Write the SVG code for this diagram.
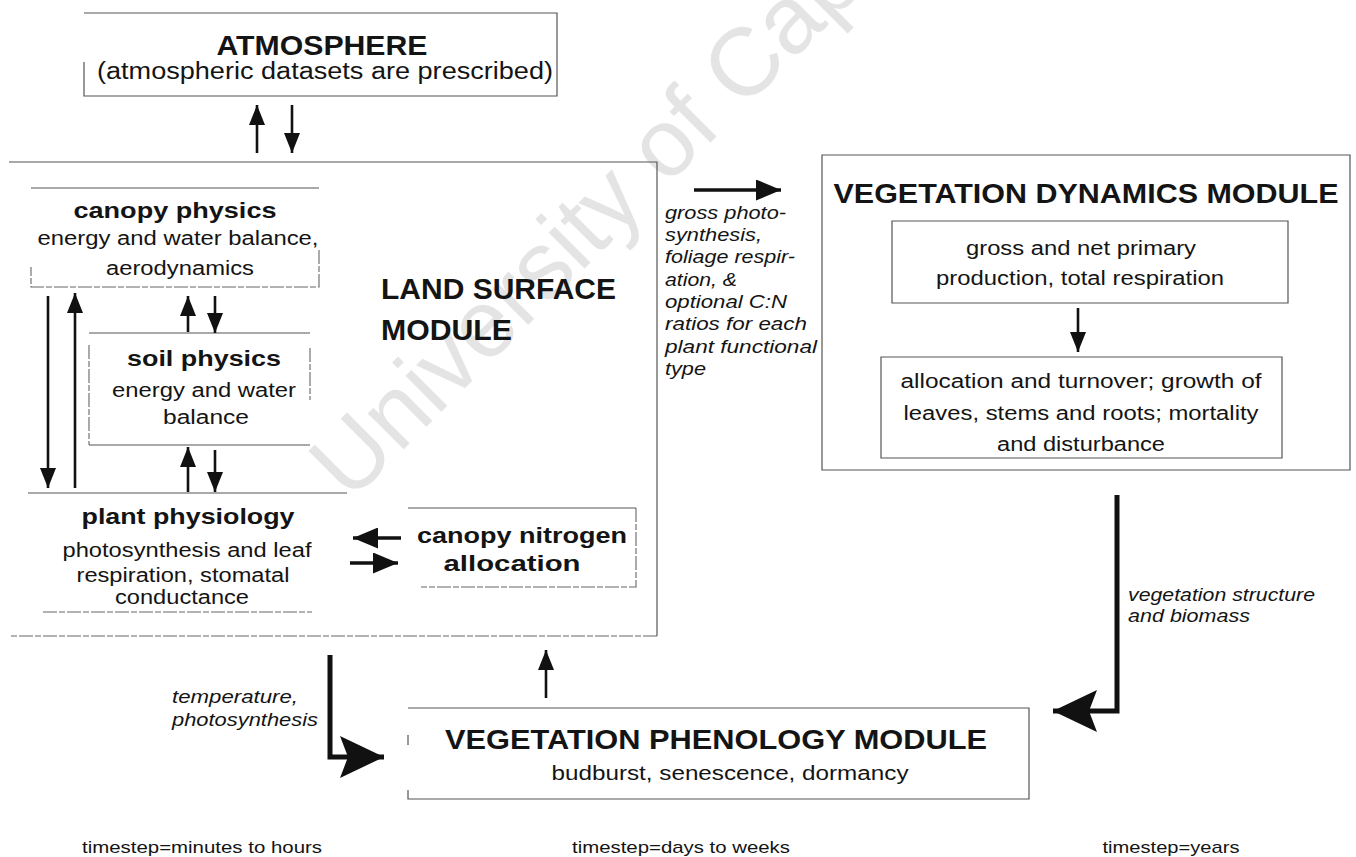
<svg xmlns="http://www.w3.org/2000/svg" width="1356" height="857" viewBox="0 0 1356 857">
<defs>
<style>
.t{font-family:"Liberation Sans",Arial,Helvetica,sans-serif;fill:#141414}
.b{font-weight:bold}
.i{font-style:italic}
.c{text-anchor:middle}
.ln{fill:none;stroke:#555;stroke-width:1.2}
.dl{fill:none;stroke:#666;stroke-width:1.1;stroke-dasharray:14 2 6 2}
.ar{fill:none;stroke:#111;stroke-width:2.6}
.am{fill:none;stroke:#111;stroke-width:3.4}
.ab{fill:none;stroke:#111;stroke-width:5}
.wm{font-family:"Liberation Sans",Arial,sans-serif;fill:#e4e4e4}
</style>
<marker id="ah" viewBox="0 0 20 16" refX="20" refY="8" markerWidth="20" markerHeight="16" orient="auto" markerUnits="userSpaceOnUse"><path d="M0,0 L20,8 L0,16 z" fill="#111"/></marker>
<marker id="am" viewBox="0 0 25 21" refX="25" refY="10.5" markerWidth="25" markerHeight="21" orient="auto" markerUnits="userSpaceOnUse"><path d="M0,0 L25,10.5 L0,21 z" fill="#111"/></marker>
<marker id="ab" viewBox="0 0 44 42" refX="44" refY="21" markerWidth="44" markerHeight="42" orient="auto" markerUnits="userSpaceOnUse"><path d="M0,0 L44,21 L0,42 L8,21 z" fill="#111"/></marker>
</defs>
<rect width="1356" height="857" fill="#fff"/>
<text class="wm" font-size="96" transform="translate(350,503) rotate(-45)">University of Cape Town</text>

<g id="atmosphere">
<path class="ln" d="M84,13 H557 V96 H84 V62"/>
<text class="t b c" x="322" y="55" font-size="28" textLength="211" lengthAdjust="spacingAndGlyphs">ATMOSPHERE</text>
<text class="t c" x="325" y="79" font-size="23" textLength="456" lengthAdjust="spacingAndGlyphs">(atmospheric datasets are prescribed)</text>
</g>

<g id="land-surface">
<path class="ln" d="M9,162 H657 V636"/>
<path class="dl" d="M657,636 H9"/>
<text class="t b" x="381" y="299" font-size="30" textLength="235" lengthAdjust="spacingAndGlyphs">LAND SURFACE</text>
<text class="t b" x="381" y="340" font-size="30" textLength="131" lengthAdjust="spacingAndGlyphs">MODULE</text>
</g>

<g id="canopy-physics">
<path class="ln" d="M31,188 H319"/>
<path class="dl" d="M319,250 V287 H31 V267"/>
<text class="t b c" x="175" y="218" font-size="22" textLength="203" lengthAdjust="spacingAndGlyphs">canopy physics</text>
<text class="t c" x="178" y="245" font-size="20" textLength="281" lengthAdjust="spacingAndGlyphs">energy and water balance,</text>
<text class="t c" x="180" y="275" font-size="20" textLength="148" lengthAdjust="spacingAndGlyphs">aerodynamics</text>
</g>

<g id="soil-physics">
<path class="ln" d="M89,333 H310"/>
<path class="ln" d="M89,445 H310"/>
<path class="dl" d="M89,345 V445 M310,348 V400"/>
<text class="t b c" x="204" y="366" font-size="22" textLength="154" lengthAdjust="spacingAndGlyphs">soil physics</text>
<text class="t c" x="204" y="397" font-size="20" textLength="184" lengthAdjust="spacingAndGlyphs">energy and water</text>
<text class="t c" x="206" y="424" font-size="20" textLength="86" lengthAdjust="spacingAndGlyphs">balance</text>
</g>

<g id="plant-physiology">
<path class="ln" d="M28,493 H347"/>
<path class="dl" d="M43,612 H312"/>
<text class="t b c" x="188" y="524" font-size="22" textLength="213" lengthAdjust="spacingAndGlyphs">plant physiology</text>
<text class="t c" x="187" y="557" font-size="20" textLength="249" lengthAdjust="spacingAndGlyphs">photosynthesis and leaf</text>
<text class="t c" x="183" y="582" font-size="20" textLength="213" lengthAdjust="spacingAndGlyphs">respiration, stomatal</text>
<text class="t c" x="182" y="604" font-size="20" textLength="134" lengthAdjust="spacingAndGlyphs">conductance</text>
</g>

<g id="canopy-nitrogen">
<path class="ln" d="M408,508 H636"/>
<path class="dl" d="M636,508 V587 H421"/>
<text class="t b c" x="522" y="543" font-size="22" textLength="210" lengthAdjust="spacingAndGlyphs">canopy nitrogen</text>
<text class="t b c" x="512" y="571" font-size="22" textLength="137" lengthAdjust="spacingAndGlyphs">allocation</text>
</g>

<g id="vegetation-dynamics">
<path class="ln" d="M822,155 H1350 V470 H822 Z"/>
<text class="t b c" x="1086" y="203" font-size="28" textLength="505" lengthAdjust="spacingAndGlyphs">VEGETATION DYNAMICS MODULE</text>
</g>

<g id="production">
<path class="ln" d="M892,221 H1288 V303 H892 Z"/>
<text class="t c" x="1081" y="255" font-size="20" textLength="230" lengthAdjust="spacingAndGlyphs">gross and net primary</text>
<text class="t c" x="1080" y="285" font-size="20" textLength="288" lengthAdjust="spacingAndGlyphs">production, total respiration</text>
</g>

<g id="allocation">
<path class="ln" d="M881,357 H1282 V458 H881 Z"/>
<text class="t c" x="1081" y="388" font-size="20" textLength="361" lengthAdjust="spacingAndGlyphs">allocation and turnover;  growth of</text>
<text class="t c" x="1081" y="420" font-size="20" textLength="355" lengthAdjust="spacingAndGlyphs">leaves, stems and roots; mortality</text>
<text class="t c" x="1081" y="451" font-size="20" textLength="168" lengthAdjust="spacingAndGlyphs">and disturbance</text>
</g>

<g id="vegetation-phenology">
<path class="ln" d="M408,708 H1029 V799 H408 V790"/>
<path class="ln" d="M408,735 V745"/>
<text class="t b c" x="716" y="749" font-size="28" textLength="542" lengthAdjust="spacingAndGlyphs">VEGETATION PHENOLOGY MODULE</text>
<text class="t c" x="730" y="780" font-size="20" textLength="357" lengthAdjust="spacingAndGlyphs">budburst, senescence, dormancy</text>
</g>

<g id="connectors">
<line class="ar" x1="257" y1="153" x2="257" y2="105" marker-end="url(#ah)"/>
<line class="ar" x1="292" y1="105" x2="292" y2="153" marker-end="url(#ah)"/>
<line class="ar" x1="48" y1="296" x2="48" y2="488" marker-end="url(#ah)"/>
<line class="ar" x1="75" y1="488" x2="75" y2="293" marker-end="url(#ah)"/>
<line class="ar" x1="188" y1="332" x2="188" y2="296" marker-end="url(#ah)"/>
<line class="ar" x1="215" y1="296" x2="215" y2="333" marker-end="url(#ah)"/>
<line class="ar" x1="188" y1="492" x2="188" y2="447" marker-end="url(#ah)"/>
<line class="ar" x1="215" y1="450" x2="215" y2="492" marker-end="url(#ah)"/>
<line class="am" x1="401" y1="538" x2="353" y2="538" marker-end="url(#am)"/>
<line class="am" x1="350" y1="563" x2="398" y2="563" marker-end="url(#am)"/>
<line class="am" x1="694" y1="190" x2="781" y2="190" marker-end="url(#am)"/>
<line class="ar" x1="1078" y1="308" x2="1078" y2="352" marker-end="url(#ah)"/>
<line class="ar" x1="546" y1="698" x2="546" y2="650" marker-end="url(#ah)"/>
<path class="ab" d="M330,655 V757 H384" marker-end="url(#ab)"/>
<path class="ab" d="M1117,495 V711 H1053" marker-end="url(#ab)"/>
<g class="t i" font-size="19">
<text x="665" y="219" textLength="121" lengthAdjust="spacingAndGlyphs">gross photo-</text>
<text x="665" y="241" textLength="97" lengthAdjust="spacingAndGlyphs">synthesis,</text>
<text x="665" y="263" textLength="130" lengthAdjust="spacingAndGlyphs">foliage respir-</text>
<text x="665" y="286" textLength="72" lengthAdjust="spacingAndGlyphs">ation, &amp;</text>
<text x="665" y="308" textLength="122" lengthAdjust="spacingAndGlyphs">optional C:N</text>
<text x="665" y="330" textLength="142" lengthAdjust="spacingAndGlyphs">ratios for each</text>
<text x="665" y="353" textLength="152" lengthAdjust="spacingAndGlyphs">plant functional</text>
<text x="665" y="375" textLength="41" lengthAdjust="spacingAndGlyphs">type</text>
<text x="1128" y="601" textLength="187" lengthAdjust="spacingAndGlyphs">vegetation structure</text>
<text x="1128" y="622" textLength="122" lengthAdjust="spacingAndGlyphs">and biomass</text>
<text x="172" y="703" textLength="126" lengthAdjust="spacingAndGlyphs">temperature,</text>
<text x="172" y="726" textLength="146" lengthAdjust="spacingAndGlyphs">photosynthesis</text>
</g>
</g>

<g id="timesteps">
<text class="t c" x="202" y="853" font-size="17" textLength="240" lengthAdjust="spacingAndGlyphs">timestep=minutes to hours</text>
<text class="t c" x="681" y="853" font-size="17" textLength="218" lengthAdjust="spacingAndGlyphs">timestep=days to weeks</text>
<text class="t c" x="1171" y="853" font-size="17" textLength="137" lengthAdjust="spacingAndGlyphs">timestep=years</text>
</g>
</svg>
